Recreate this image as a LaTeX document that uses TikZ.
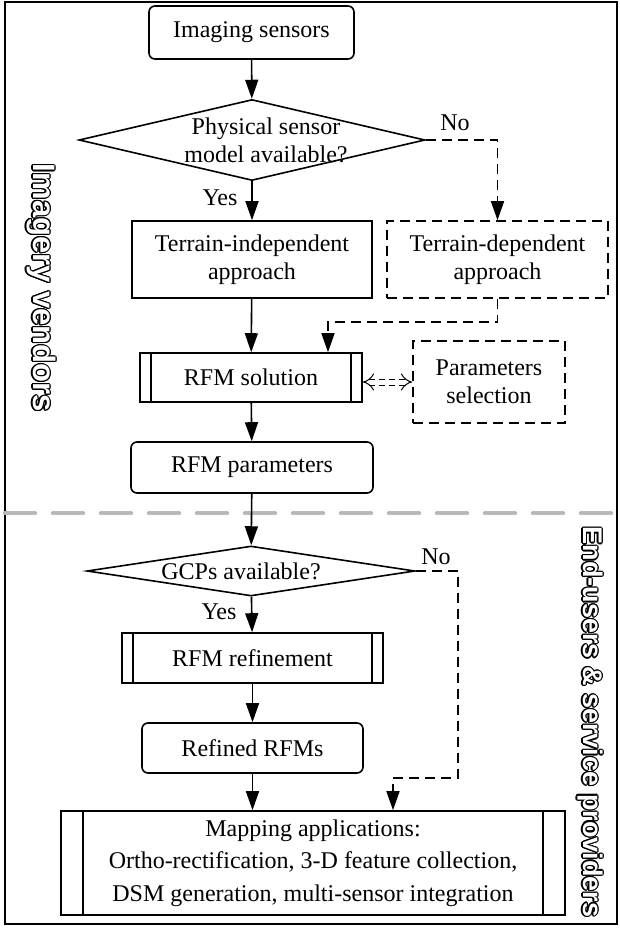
\documentclass[tikz,border=0pt]{standalone}
\usepackage{fontspec}
\setmainfont{Liberation Serif}
\newfontfamily\sidefont{Liberation Sans}
\usetikzlibrary{arrows.meta,shapes.geometric}

% white letters with a thin black rim, set sideways
\newcommand\hollowtext[4]{%
  \foreach \ang in {0,22.5,...,337.5}
    \node[sidelbl, font=\sidefont\bfseries\fontsize{#3}{#3}\selectfont, shift={(\ang:0.55pt)}] at (#2) {#4};
  \node[sidelbl, text=white, font=\sidefont\bfseries\fontsize{#3}{#3}\selectfont] (#1) at (#2) {#4};}

\begin{document}
\begin{tikzpicture}[x=0.5pt,y=-0.5pt,
    font=\fontsize{12pt}{14pt}\selectfont,
    line width=0.8pt,
    >={Triangle[length=9.5pt,width=6.5pt]},
    longdash/.style={dash pattern=on 5pt off 3pt},
    startbox/.style={draw, rounded corners=3pt, align=center},
    plainbox/.style={draw, align=center},
    optbox/.style={draw, longdash, align=center},
    procbox/.style={draw, align=center,
      path picture={\draw ([xshift=#1]path picture bounding box.north west) -- ([xshift=#1]path picture bounding box.south west)
                          ([xshift=-#1]path picture bounding box.north east) -- ([xshift=-#1]path picture bounding box.south east);}},
    procbox/.default=5.5pt,
    decision/.style={draw, diamond, inner sep=0pt},
    sidelbl/.style={rotate=-90, inner sep=0pt},
    sepline/.style={draw=black!28, line width=2.2pt, dash pattern=on 15pt off 9pt, line cap=round}]

	\useasboundingbox (0,0) rectangle (620,928);
	\draw (5,2) rectangle (617,924);

	% vendor side
	\node[startbox, minimum width=102.5pt, minimum height=26.5pt] (sens) at (251.5,32.5) {Imaging sensors};
	\node[decision, minimum width=173pt, minimum height=40.5pt,
	      label={[xshift=7pt, align=center]center:Physical sensor\\model available?}] (q1) at (252,140) {};
	\node[plainbox, minimum width=120pt, minimum height=38.5pt] (tind) at (252,259.5) {Terrain-independent\\approach};
	\node[optbox, minimum width=110.5pt, minimum height=38.5pt] (tdep) at (497.5,259.5) {Terrain-dependent\\approach};
	\node[procbox, minimum width=111pt, minimum height=24.5pt] (sol) at (251,377.5) {RFM solution};
	\node[optbox, minimum width=76pt, minimum height=41pt] (psel) at (489,382) {Parameters\\selection};
	\node[startbox, minimum width=121pt, minimum height=25.5pt] (rfmp) at (252,467.5) {RFM parameters};
	\node (no1) at (455,123) {No};
	\node (yes1) at (220,198) {Yes};
	\coordinate (join) at (328,322);

	\draw[->] (sens) -- (q1);
	\draw[->] (q1) -- (tind);
	\draw[->, longdash] (q1.east) -| (tdep.north);
	\draw[->] (tind) -- (sol);
	\draw[->, longdash] (tdep.south) |- (join) -- (join |- sol.north);
	\draw[double, double distance=2.5pt, line width=0.5pt, dash pattern=on 3pt off 2pt, {Implies}-{Implies}]
	      (psel.west -| sol.east) -- (psel.west);
	\draw[->] (sol) -- (rfmp);

	\draw[sepline] (5,513) -- (617,513);

	% user side
	\node[decision, minimum width=164pt, minimum height=25pt,
	      label={[xshift=-5pt]center:GCPs available?}] (q2) at (251,571) {};
	\node[procbox, minimum width=130.5pt, minimum height=25pt] (refine) at (252.5,658) {RFM refinement};
	\node[startbox, minimum width=110.5pt, minimum height=25pt] (refd) at (252.5,748) {Refined RFMs};
	\node[procbox=11pt, minimum width=252pt, minimum height=52pt, font=\fontsize{12pt}{16.3pt}\selectfont] (maps) at (313,863)
	      {Mapping applications:\\Ortho-rectification, 3-D feature collection,\\DSM generation, multi-sensor integration};
	\node (no2) at (436,557) {No};
	\node (yes2) at (219,612) {Yes};
	\coordinate (turn) at (458,778);
	\coordinate (drop) at (393,778);

	\draw[->] (rfmp) -- (q2);
	\draw[->] (q2) -- (refine);
	\draw[->] (refine) -- (refd);
	\draw[->] (refd) -- (refd |- maps.north);
	\draw[->, longdash] (q2.east) -| (turn) -- (drop) -- (drop |- maps.north);

	\hollowtext{vend}{41,288}{15.5pt}{Imagery vendors}
	\hollowtext{users}{590,722}{13.5pt}{End-users \& service providers}
\end{tikzpicture}
\end{document}
